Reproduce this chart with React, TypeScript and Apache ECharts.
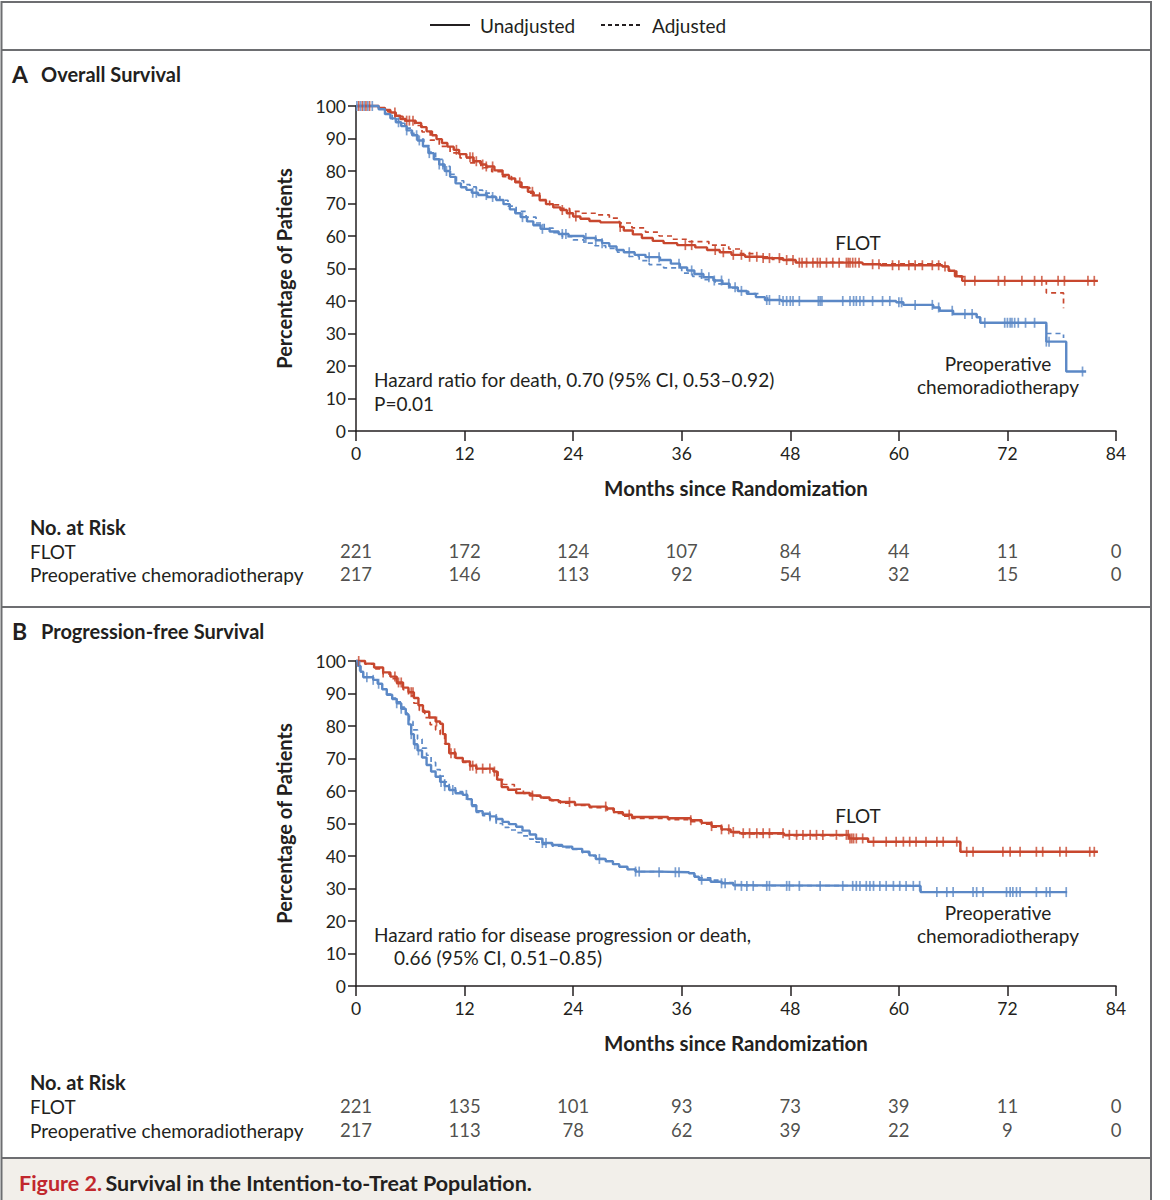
import { useEffect, useRef } from "react";
import * as echarts from "echarts";

// ---- data ----
const months = [0, 12, 24, 36, 48, 60, 72, 84];
const groups = ["FLOT", "Preoperative chemoradiotherapy"];

// Panel A: overall survival, [month, %] at each step
const osFlot = [[0,100],[2.5,99.4],[3.2,98.8],[3.8,98],[4.4,97],[4.9,96],[5.5,95.5],[6.6,94.8],[7.2,93.5],[7.8,92.2],[8.4,91],[8.9,89.8],[9.5,88.6],[10.1,87.5],[10.8,86.5],[11.4,85.2],[12.2,84.2],[13,83],[13.8,82],[14.4,81.4],[15.3,80.2],[16.2,78.8],[16.9,77.7],[17.6,76.5],[18.3,75],[19,73.6],[19.6,72.5],[20.3,71],[21,69.8],[21.8,68.8],[22.6,68],[23.3,67],[24,66],[24.8,65.3],[25.8,64.6],[27,64.2],[29.2,62.8],[29.6,61.7],[30.6,60.5],[31.6,59.4],[32.8,58.5],[34,57.8],[35.5,57.2],[37.5,56.5],[38.8,55.7],[40.2,55],[41.5,54.2],[43,53.6],[45,53.2],[47.2,52.6],[48.6,51.8],[56,51.3],[58,51],[64.8,50.6],[65.5,49.3],[66.2,47.6],[67,46.2],[82,46.2]];
const osFlotAdj = [[0,100],[2.5,99.3],[3.5,98.2],[4.3,96.8],[5.2,95.4],[6.5,94],[7.3,92],[8.2,89.5],[9.2,87.6],[10.4,85.6],[11.5,84],[12.6,82.5],[13.8,81],[15,79.8],[16.2,78.3],[17.2,76.8],[18.2,75],[19.2,73.2],[20.3,71.2],[21.4,69.6],[22.5,68.5],[23.6,67.6],[25,67],[26.5,66.5],[28,65.5],[29.1,64],[30.5,62.5],[32,61.2],[33.5,60],[35,59],[36.8,58.3],[39,57.2],[41.2,56],[42.5,54.6],[44,53.6],[46,52.8],[48.6,51.9],[56,51.4],[64.8,50.7],[65.6,49.2],[66.4,47.5],[67.2,46.2],[76.3,42.5],[78.2,37.8]];
const osCrt = [[0,100],[2.5,99],[3.2,97.5],[3.8,96.2],[4.4,95],[5,93.8],[5.6,92.5],[6.2,91],[6.8,89.4],[7.4,87.6],[8,85.5],[8.6,83.6],[9.2,82],[9.8,80],[10.4,78.2],[11,76.2],[11.6,75],[12.2,74.2],[12.8,73.3],[13.5,72.6],[14.5,72],[15.5,71.1],[16.3,69.8],[17,68.2],[17.6,67],[18.2,65.8],[18.9,64.5],[19.6,63.3],[20.4,62.2],[21.4,61.4],[22.4,60.6],[23.5,60],[25.2,59.4],[26.5,58.7],[27.2,57.8],[28,56.8],[28.8,55.7],[29.6,55],[30.8,54.2],[32,53.5],[33.6,52.6],[34.8,51.5],[35.8,50.3],[36.6,49.4],[37.4,48.3],[38.4,47.3],[39.5,46.3],[40.5,45.3],[41.3,44.2],[42.2,43.1],[43.2,42.2],[44.2,41.2],[45.2,40.3],[47,40],[59.7,39.6],[60.5,38.8],[63.8,38],[64.5,37],[66,36],[68.6,35],[69,33.3],[76.3,27.5],[78.5,18.3],[80.7,18.3]];
const osCrtAdj = [[0,100],[2.5,99],[3.3,97.5],[4,96],[4.7,94.7],[5.4,93.2],[6.1,91.6],[6.8,89.8],[7.5,87.8],[8.1,85.8],[8.8,83.6],[9.6,81.4],[10.4,79],[11.1,77],[11.9,75.8],[12.6,75.1],[13.3,74.1],[14,73.2],[15,72.2],[15.9,71],[16.8,69.2],[17.7,67.6],[18.8,65.8],[19.9,64],[20.8,62.4],[21.8,61],[22.8,59.8],[24,58.8],[25.2,57.8],[26.4,57],[27.6,56.2],[28.9,55],[30.2,53.7],[31.3,52.4],[32.4,51.2],[34,50.2],[36,48.6],[37.2,47.6],[38.2,46.6],[39.7,45.3],[41.2,44],[42.3,43],[43.4,42.3],[44.5,41.2],[45.5,40.3],[47,40],[59.7,39.6],[60.5,38.8],[63.8,38],[64.5,37],[66,36],[68.6,35],[69,33.3],[76.3,30],[78.2,28.6]];
const osFlotCensor = [0.3,0.7,1.1,1.5,4.3,5.6,5.9,6.3,11.1,12.6,12.9,13.3,14,14.4,15.1,18.1,19.5,22.8,23.6,24.3,29.2,36.4,37.1,39.7,40.6,41.7,42.6,43.5,44.3,45,45.7,46.8,47.6,48.3,49,49.3,49.8,50.5,51,51.3,52,52.7,53.4,54.2,54.4,54.6,54.9,55.2,55.6,57.1,57.8,59.3,60,61.1,61.8,62.6,63.7,64.4,65.1,67.3,68.4,71,71.7,73.6,75,75.8,77.6,78.3,80.9,81.6];
const osCrtCensor = [0.1,0.5,0.9,1.3,1.8,4.7,5.6,6.7,7,8.1,9.2,9.6,10,12.9,13.3,14.4,15.1,18.4,20.6,22.8,23.2,25.4,26.5,27.2,30.2,32.4,33.5,35.7,37.1,38.2,39,39.6,40.4,41.2,41.9,42.6,45.4,45.7,46.8,47.2,47.6,48,48.3,49,51.1,51.3,51.5,53.8,54.6,55,55.3,55.7,56.1,57.1,58.2,59,60,60.3,61.8,63.7,64.4,65.9,67.3,68.1,69.5,71.7,72,72.3,72.5,72.8,73.2,74,75,76.3,76.6,80.3];
const osRiskFlot = [221, 172, 124, 107, 84, 44, 11, 0];
const osRiskCrt = [217, 146, 113, 92, 54, 32, 15, 0];

// Panel B: progression-free survival
const pfsFlot = [[0,100],[1,99.2],[2,98],[3,96.5],[3.8,95.2],[4.5,93.4],[5.2,91.8],[5.8,90.4],[6.4,88.6],[6.9,86.4],[7.4,84.4],[8.1,82.6],[8.8,81.4],[9.3,80.7],[9.6,77.5],[9.9,74.5],[10.3,71.6],[11,70.2],[11.8,69.1],[12.6,67.8],[13.3,66.9],[15.2,66],[15.6,63.5],[16.1,61.2],[16.8,60.4],[17.7,59.4],[19.2,58.6],[20.4,58],[21.4,57.2],[22.4,56.6],[24.2,55.8],[25.8,55.2],[27.7,54.6],[28.5,53.5],[29.5,52.7],[30.5,52],[34.5,51.6],[37,51],[38.2,50.2],[39.3,49.2],[40.4,48.2],[41.4,47.4],[42.4,47],[47.3,46.5],[54.5,45.4],[56.6,44.4],[66.8,41.3],[82,41.3]];
const pfsFlotAdj = [[0,100],[1,99],[2,97.6],[3,96],[3.8,94.6],[4.5,93],[5.2,91.2],[5.8,89.3],[6.4,87],[7,84.8],[7.6,82.6],[8.2,80.4],[8.8,78.8],[9.3,77.4],[9.8,74.5],[10.3,72],[11,70],[11.8,68.8],[12.6,67.6],[13.3,66.8],[15.2,65.9],[15.7,63.5],[16.3,62],[17.5,60.6],[18.5,59.3],[19.5,58.4],[20.6,57.8],[21.6,57],[22.6,56.3],[24.2,55.6],[25.8,54.9],[27.7,54.2],[28.5,53.1],[29.5,52.3],[30.5,51.6],[34.5,51.2],[37,50.6],[38.2,49.8],[39.3,48.9],[40.4,48],[41.4,47.2],[42.4,46.8],[47.3,46.3],[54.5,45.3],[56.6,44.3],[66.8,41.3],[82,41.3]];
const pfsCrt = [[0,100],[0.2,98.5],[0.5,96.7],[0.8,95],[1.9,94.2],[2.4,93],[2.9,91.3],[3.4,89.6],[4,88.3],[4.5,87],[5,85.3],[5.5,83.6],[5.8,80.5],[6.1,77.5],[6.4,74.4],[6.8,72.5],[7.3,70.3],[7.8,68],[8.3,66],[8.8,64.4],[9.3,62.8],[9.8,61.5],[10.3,60.3],[11,59.3],[11.8,58.8],[12.3,57.5],[12.8,55.6],[13.3,53.8],[14,53],[14.8,52.2],[15.5,51.4],[16.2,50.5],[16.9,49.8],[17.7,49],[18.4,47.8],[19.2,46.6],[19.9,45.3],[20.6,44],[21.7,43.4],[22.8,42.9],[23.9,42.2],[25,41.3],[25.8,40.2],[26.5,39.1],[27.6,38.4],[28.4,37.5],[29.1,36.7],[30,35.9],[30.9,35.2],[33.5,35],[36.8,34.7],[37.4,33.6],[37.9,32.7],[39.2,32.1],[40.4,31.6],[41.7,31],[42.5,30.8],[62.4,28.9],[78.6,28.9]];
const pfsCrtAdj = [[0,100],[0.2,98.5],[0.5,96.7],[0.8,95],[1.9,94.2],[2.4,93],[2.9,91.4],[3.4,89.8],[4,88.6],[4.5,87.4],[5,85.8],[5.5,84],[5.9,81.4],[6.3,78.8],[6.8,76],[7.3,73.2],[7.8,71],[8.3,68.8],[8.8,66.6],[9.3,64.6],[9.8,62.8],[10.3,61],[11,59.8],[11.8,59],[12.3,57.4],[12.8,55.3],[13.3,53.4],[14,52.4],[14.8,51.4],[15.5,50],[16.2,48.8],[16.9,48],[17.7,47.2],[18.4,46.2],[19.2,45.2],[19.9,44.3],[20.6,43.6],[21.7,43],[22.8,42.6],[23.9,42],[25,41],[25.8,40],[26.5,39.2],[27.6,38.4],[28.4,37.5],[29.1,36.7],[30,35.9],[30.9,35.2],[33.5,35],[36.8,34.7],[37.4,34],[37.9,33.3],[39.2,32.6],[40.4,31.8],[41.7,31.2],[42.5,30.9],[62.4,28.9],[78.6,28.9]];
const pfsFlotCensor = [0.3,3,4.3,4.7,5,6.1,6.3,8.9,10.5,10.9,12.6,12.9,13.3,14,14.8,15.3,19.5,23.6,27.6,30.2,37,39.3,40.4,41.2,41.7,42.8,43.5,44.3,45,45.7,47.2,47.9,48.7,49.4,50.2,50.9,51.6,53.1,54.2,54.4,54.6,54.8,55,55.3,56,57.2,58.6,59.7,60.5,61.2,61.9,63,64.2,64.9,66.4,67.5,68.2,71.5,72.3,73.4,75.2,75.9,77.8,78.5,81.1,81.6];
const pfsCrtCensor = [0.4,1.2,1.9,2.5,4.5,5,6.1,6.5,6.9,9.4,9.8,10.7,12.2,14.8,15.5,20.6,21,26.9,30.9,31.3,33.5,35.3,35.7,38.2,40.4,40.8,41.9,42.6,43.2,43.9,45.4,45.7,47.6,47.9,49,51.3,53.8,54.9,55.3,55.7,56.4,56.8,57.2,57.9,58.6,59.4,60.1,60.8,61.6,62.3,64.2,65.3,66,68.2,68.6,69.3,71.9,72.3,72.6,73,73.4,75.2,76.3,76.7,78.5];
const pfsRiskFlot = [221, 135, 101, 93, 73, 39, 11, 0];
const pfsRiskCrt = [217, 113, 78, 62, 39, 22, 9, 0];

const RED = "#c8472e";
const BLUE = "#5b88c6";
const INK = "#231f20";
const FRAME = "#6d6e71";
const FONT = 'Lato, "Open Sans", sans-serif';

// survival value in force at time t (KM step)
function stepAt(curve: number[][], t: number) {
  let v = curve[0][1];
  for (const [x, y] of curve) {
    if (x <= t) v = y;
    else break;
  }
  return v;
}

function curveSeries(data: number[][], color: string, dashed: boolean, axis: number) {
  return {
    type: "line",
    step: "end",
    xAxisIndex: axis,
    yAxisIndex: axis,
    data,
    showSymbol: false,
    symbol: "none",
    clip: false,
    silent: true,
    z: dashed ? 3 : 4,
    lineStyle: { color, width: dashed ? 1.7 : 2.4, type: dashed ? [5, 4] : "solid" },
  };
}

function censorSeries(times: number[], curve: number[][], color: string, axis: number) {
  return {
    type: "scatter",
    xAxisIndex: axis,
    yAxisIndex: axis,
    data: times.map((t) => [t, stepAt(curve, t)]),
    symbol: "rect",
    symbolSize: [1.7, 10],
    itemStyle: { color },
    silent: true,
    clip: false,
    z: 5,
  };
}

function riskSeries(flot: number[], crt: number[], axis: number) {
  const data = [
    ...months.map((m, i) => [m, 0, flot[i]]),
    ...months.map((m, i) => [m, 1, crt[i]]),
  ];
  return {
    type: "scatter",
    xAxisIndex: axis,
    yAxisIndex: axis,
    data,
    symbolSize: 0,
    itemStyle: { color: "rgba(0,0,0,0)" },
    silent: true,
    label: {
      show: true,
      position: "inside",
      formatter: (p: any) => String(p.value[2]),
      color: INK,
      fontFamily: FONT,
      fontSize: 18.5,
    },
  };
}

function plotX(grid: number) {
  return {
    type: "value",
    gridIndex: grid,
    min: 0,
    max: 84,
    interval: 12,
    name: "Months since Randomization",
    nameLocation: "middle",
    nameGap: 46,
    nameTextStyle: { fontFamily: FONT, fontSize: 20.5, fontWeight: "bold", color: INK },
    axisLine: { show: true, onZero: false, lineStyle: { color: INK, width: 1.5 } },
    axisTick: { show: true, length: 10, lineStyle: { color: INK, width: 1.5 } },
    axisLabel: { fontFamily: FONT, fontSize: 17.5, color: INK, margin: 13 },
    splitLine: { show: false },
  };
}

function plotY(grid: number) {
  return {
    type: "value",
    gridIndex: grid,
    min: 0,
    max: 100,
    interval: 10,
    name: "Percentage of Patients",
    nameLocation: "middle",
    nameRotate: 90,
    nameGap: 62,
    nameTextStyle: { fontFamily: FONT, fontSize: 20, fontWeight: "bold", color: INK },
    axisLine: { show: true, lineStyle: { color: INK, width: 1.5 } },
    axisTick: { show: true, length: 8, lineStyle: { color: INK, width: 1.5 } },
    axisLabel: { fontFamily: FONT, fontSize: 17.5, color: INK, margin: 10 },
    splitLine: { show: false },
  };
}

function riskX(grid: number) {
  return { type: "value", gridIndex: grid, min: 0, max: 84, show: false };
}

function riskY(grid: number) {
  return {
    type: "category",
    gridIndex: grid,
    data: groups,
    inverse: true,
    axisLine: { show: false },
    axisTick: { show: false },
    axisLabel: { interval: 0, align: "left", margin: 326, fontFamily: FONT, fontSize: 19, color: INK },
  };
}

function txt(x: number, y: number, text: string, extra: any = {}) {
  return {
    type: "text",
    x,
    y,
    silent: true,
    style: {
      text,
      fontFamily: FONT,
      fontSize: 19,
      fill: INK,
      verticalAlign: "middle",
      align: "left",
      ...extra,
    },
  };
}

function hline(y: number) {
  return {
    type: "line",
    silent: true,
    shape: { x1: 1, y1: y, x2: 1152, y2: y },
    style: { stroke: FRAME, lineWidth: 2 },
  };
}

function vline(x: number) {
  return {
    type: "line",
    silent: true,
    shape: { x1: x, y1: 1, x2: x, y2: 1200 },
    style: { stroke: FRAME, lineWidth: 2 },
  };
}

export default function App() {
  const chartRef = useRef<HTMLDivElement>(null);

  useEffect(() => {
    document.body.style.margin = "0";
    if (!chartRef.current) return;
    const chart = echarts.init(chartRef.current, null, { renderer: "svg" });

    const option = {
      animation: false,
      backgroundColor: "#ffffff",
      grid: [
        { left: 356, top: 106, width: 760, height: 325 },
        { left: 356, top: 539.5, width: 760, height: 46 },
        { left: 356, top: 661, width: 760, height: 325 },
        { left: 356, top: 1094, width: 760, height: 48 },
      ],
      xAxis: [plotX(0), riskX(1), plotX(2), riskX(3)],
      yAxis: [plotY(0), riskY(1), plotY(2), riskY(3)],
      series: [
        curveSeries(osFlotAdj, RED, true, 0),
        curveSeries(osCrtAdj, BLUE, true, 0),
        curveSeries(osFlot, RED, false, 0),
        curveSeries(osCrt, BLUE, false, 0),
        censorSeries(osFlotCensor, osFlot, RED, 0),
        censorSeries(osCrtCensor, osCrt, BLUE, 0),
        riskSeries(osRiskFlot, osRiskCrt, 1),
        curveSeries(pfsFlotAdj, RED, true, 2),
        curveSeries(pfsCrtAdj, BLUE, true, 2),
        curveSeries(pfsFlot, RED, false, 2),
        curveSeries(pfsCrt, BLUE, false, 2),
        censorSeries(pfsFlotCensor, pfsFlot, RED, 2),
        censorSeries(pfsCrtCensor, pfsCrt, BLUE, 2),
        riskSeries(pfsRiskFlot, pfsRiskCrt, 3),
      ],
      graphic: [
        // caption band
        {
          type: "rect",
          silent: true,
          shape: { x: 2, y: 1158, width: 1149, height: 42 },
          style: { fill: "#f2efea" },
          z: -1,
        },
        hline(2),
        hline(50),
        hline(607),
        hline(1158),
        vline(1.5),
        vline(1151),
        // legend
        {
          type: "line",
          silent: true,
          shape: { x1: 430, y1: 25, x2: 470, y2: 25 },
          style: { stroke: INK, lineWidth: 2.2 },
        },
        txt(480, 25, "Unadjusted"),
        {
          type: "line",
          silent: true,
          shape: { x1: 601, y1: 25, x2: 641, y2: 25 },
          style: { stroke: INK, lineWidth: 2, lineDash: [4, 3] },
        },
        txt(652, 25, "Adjusted"),
        // panel A
        txt(12, 74, "A", { fontSize: 23, fontWeight: "bold" }),
        txt(41, 74, "Overall Survival", { fontSize: 20, fontWeight: "bold" }),
        txt(858, 242, "FLOT", { align: "center" }),
        txt(998, 363, "Preoperative", { align: "center" }),
        txt(998, 386, "chemoradiotherapy", { align: "center" }),
        txt(374, 379, "Hazard ratio for death, 0.70 (95% CI, 0.53\u20130.92)"),
        txt(374, 403, "P=0.01"),
        txt(30, 527, "No. at Risk", { fontSize: 20, fontWeight: "bold" }),
        // panel B
        txt(12, 631, "B", { fontSize: 23, fontWeight: "bold" }),
        txt(41, 631, "Progression-free Survival", { fontSize: 20, fontWeight: "bold" }),
        txt(858, 815, "FLOT", { align: "center" }),
        txt(998, 912, "Preoperative", { align: "center" }),
        txt(998, 935, "chemoradiotherapy", { align: "center" }),
        txt(374, 934, "Hazard ratio for disease progression or death,"),
        txt(394, 957, "0.66 (95% CI, 0.51\u20130.85)"),
        txt(30, 1082, "No. at Risk", { fontSize: 20, fontWeight: "bold" }),
        // caption
        {
          type: "text",
          x: 19,
          y: 1183,
          silent: true,
          style: {
            text: "{r|Figure 2.} {k|Survival in the Intention-to-Treat Population.}",
            verticalAlign: "middle",
            rich: {
              r: { fontFamily: FONT, fontSize: 21.5, fontWeight: "bold", fill: "#c1272d" },
              k: { fontFamily: FONT, fontSize: 21.5, fontWeight: "bold", fill: INK },
            },
          },
        },
      ],
    };

    chart.setOption(option as any);
    return () => chart.dispose();
  }, []);

  return <div ref={chartRef} style={{ width: 1170, height: 1200 }} />;
}
